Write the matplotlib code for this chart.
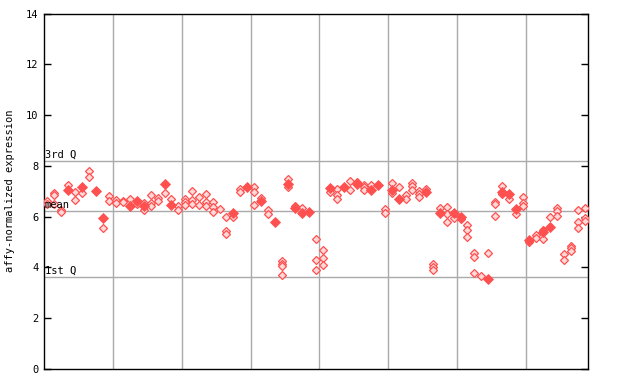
import matplotlib
matplotlib.use("Agg")
import matplotlib.pyplot as plt

# expression values per sample column (hollow markers)
hollow = [
    [6.6, 6.5], [6.95, 6.85, 6.48], [6.27, 6.18], [7.24], [6.96, 6.64],
    [6.92], [7.79, 7.55], [], [5.54], [6.8, 6.63],
    [6.65, 6.55], [6.62, 6.58], [6.68], [6.5], [6.55, 6.25],
    [6.84, 6.52, 6.43], [6.72, 6.62], [6.93], [6.68], [6.43, 6.27],
    [6.68, 6.58, 6.47], [7.01, 6.65, 6.48], [6.77, 6.46], [6.89, 6.59, 6.43], [6.58, 6.37, 6.17],
    [6.32], [5.97, 5.45, 5.3], [6.0], [7.1, 6.97], [],
    [7.15, 6.98, 6.44], [6.72], [6.26, 6.09], [], [4.25, 4.13, 4.04, 3.69],
    [7.48, 7.18], [6.43], [6.33], [], [5.1, 4.28, 3.89],
    [4.68, 4.36, 4.08], [6.98], [7.07, 6.85, 6.68], [], [7.4, 7.03],
    [7.37], [7.24, 7.15, 7.05], [7.24], [], [6.29, 6.13],
    [7.32, 6.95], [7.15], [6.86, 6.7], [7.33, 7.22, 7.05], [7.01, 6.88, 6.76],
    [7.1], [4.13, 4.03, 3.9], [6.33], [6.37, 6.1, 5.79], [5.93],
    [5.9], [5.66, 5.47, 5.21], [4.55, 4.4, 3.77], [3.68], [4.55],
    [6.58, 6.48, 6.04], [7.2, 6.89], [6.68], [6.1], [6.76, 6.52, 6.43],
    [5.0], [5.28, 5.17], [5.47, 5.12], [5.97], [6.33, 6.23, 6.02],
    [4.53, 4.29], [4.84, 4.75, 4.66], [6.25, 5.78, 5.54], [6.33, 5.93, 5.83],
]

# filled markers: (column, value)
filled_col = [3, 5, 7, 8, 12, 13, 14, 17, 18, 27, 29, 31, 33, 35, 36, 37, 38,
              41, 43, 45, 47, 48, 50, 51, 55, 57, 59, 60, 64, 66, 67, 68, 70,
              72, 73]
filled_val = [7.06, 7.18, 7.02, 5.95, 6.4, 6.6, 6.42, 7.27, 6.46, 6.13, 7.18,
              6.61, 5.8, 7.27, 6.33, 6.16, 6.2, 7.14, 7.18, 7.28, 7.05, 7.25,
              7.05, 6.7, 6.98, 6.16, 6.16, 6.0, 3.54, 6.98, 6.9, 6.3, 5.08,
              5.41, 5.6]

q3 = 8.21
mean = 6.22
q1 = 3.62
y_ticks = [0, 2, 4, 6, 8, 10, 12, 14]

red = "#ff5050"
font = "DejaVu Sans Mono"

fig = plt.figure(figsize=(6.4, 3.84), dpi=100)
ax = fig.add_axes([44 / 640, 15 / 384, 544 / 640, 355.5 / 384])

xs, ys = [], []
for i, vals in enumerate(hollow):
    for v in vals:
        xs.append(i)
        ys.append(v)
ax.plot(xs, ys, "D", ms=4.2, mfc="#ffd8d8", mec=red, mew=0.9, ls="none", zorder=3)
ax.plot(filled_col, filled_val, "D", ms=4.6, mfc=red, mec=red, mew=0.6, ls="none", zorder=4)

# group separators
n = len(hollow)
for g in range(10, n, 10):
    ax.axvline(g - 0.5, color="#aaaaaa", lw=1, zorder=1)

for val, lab in [(q3, "3rd Q"), (mean, "mean"), (q1, "1st Q")]:
    ax.axhline(val, color="#aaaaaa", lw=1, zorder=1)
    ax.text(-0.4, val + 0.05, lab, family=font, fontsize=7.5, va="bottom", ha="left", zorder=5)

ax.set_xlim(-0.5, n - 0.5)
ax.set_ylim(0, 14)
ax.set_yticks(y_ticks)
ax.set_yticklabels([str(t) for t in y_ticks], family=font, fontsize=7.5)
ax.set_xticks([])
ax.tick_params(axis="y", direction="in", length=5, width=1, right=True, pad=4)
for s in ax.spines.values():
    s.set_linewidth(1)
ax.set_ylabel("affy-normalized expression", family=font, fontsize=7.5, labelpad=8)

fig.savefig("out.png", dpi=100)
